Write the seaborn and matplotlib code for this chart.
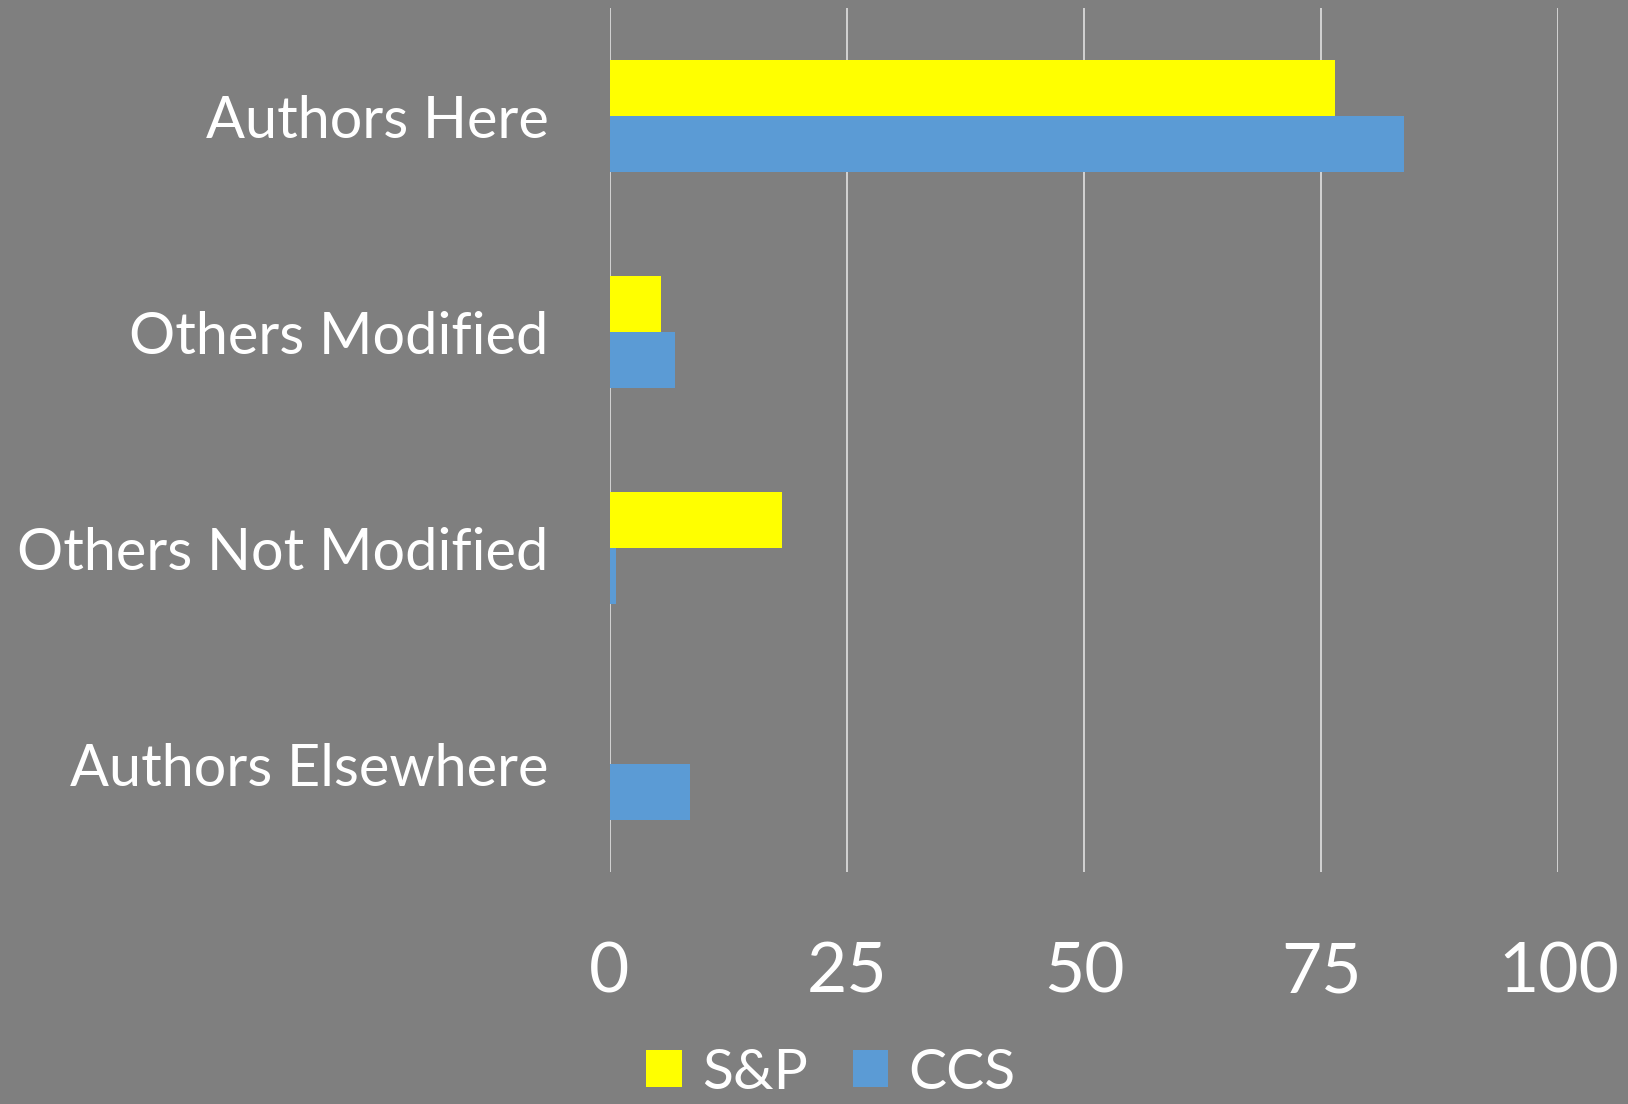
import matplotlib
matplotlib.use("Agg")
import matplotlib.pyplot as plt
import seaborn as sns
import pandas as pd
from matplotlib.patches import Patch

categories = ["Authors Here", "Others Modified", "Others Not Modified", "Authors Elsewhere"]
series = ["S&P", "CCS"]
sp_values = [76.4, 5.4, 18.2, 0.0]
ccs_values = [83.7, 6.9, 0.7, 8.5]
x_ticks = [0, 25, 50, 75, 100]
colors = {"S&P": "#FFFF00", "CCS": "#5B9BD5"}

rows = []
for c, v in zip(categories, sp_values):
    rows.append({"Category": c, "Series": "S&P", "Value": v})
for c, v in zip(categories, ccs_values):
    rows.append({"Category": c, "Series": "CCS", "Value": v})
df = pd.DataFrame(rows)

sns.set_theme(style="white")
plt.rcParams["font.family"] = ["Lato", "DejaVu Sans"]
bg = "#7F7F7F"

fig = plt.figure(figsize=(16.28, 11.04), dpi=100, facecolor=bg)
ax = fig.add_axes([0.3744, 0.2101, 0.9573 - 0.3744, 0.9925 - 0.2101])
ax.set_facecolor(bg)

sns.barplot(data=df, y="Category", x="Value", hue="Series", order=categories,
            hue_order=series, palette=colors, orient="h", width=0.52,
            saturation=1, legend=False, ax=ax, zorder=3,
            edgecolor="none", linewidth=0)

ax.set_xlim(0, 100)
ax.set_ylim(3.5, -0.5)
ax.set_xticks(x_ticks)
ax.set_xticklabels([str(t) for t in x_ticks])
ax.set_xlabel("")
ax.set_ylabel("")
for s in ax.spines.values():
    s.set_visible(False)
ax.grid(False)
for t in x_ticks:
    ax.axvline(t, color="#D9D9D9", linewidth=1.3, zorder=1)

ax.tick_params(axis="x", length=0, pad=50, labelsize=50, labelcolor="white")
ax.tick_params(axis="y", length=0, pad=44, labelsize=41.5, labelcolor="white")

handles = [Patch(facecolor=colors[s], edgecolor="none", label=s) for s in series]
leg = fig.legend(handles=handles, loc="center", bbox_to_anchor=(831 / 1628, 0.028),
                 ncol=2, frameon=False, fontsize=41, labelcolor="white",
                 handlelength=0.62, handleheight=0.62, handletextpad=0.35,
                 columnspacing=0.8, borderaxespad=0, borderpad=0)

fig.savefig("out.png", dpi=100, facecolor=bg)
